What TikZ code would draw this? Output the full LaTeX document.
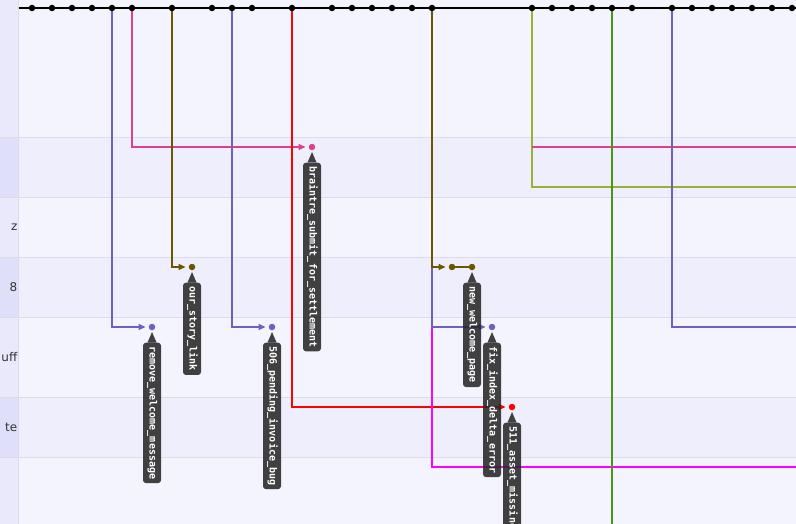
\documentclass[tikz,border=0pt]{standalone}
\usepackage{fontspec}
\setmainfont{DejaVu Sans}
\newfontfamily\tagfont{DejaVu Sans Mono}
\usetikzlibrary{arrows.meta}

\definecolor{rowlight}{RGB}{244,244,254}
\definecolor{rowdark}{RGB}{239,238,252}
\definecolor{leftlight}{RGB}{233,233,251}
\definecolor{leftdark}{RGB}{223,223,250}
\definecolor{gridline}{RGB}{220,220,228}
\definecolor{tagbg}{RGB}{40,40,40}
\definecolor{lav}{RGB}{111,95,192}
\definecolor{rose}{RGB}{222,64,140}
\definecolor{olive}{RGB}{107,85,0}
\definecolor{lime}{RGB}{152,176,52}
\definecolor{grass}{RGB}{72,150,20}
\definecolor{fuchsia}{RGB}{255,0,255}
\definecolor{scarlet}{RGB}{255,0,0}

\begin{document}
\begin{tikzpicture}[
		x=1pt, y=-1pt,
		>={Triangle[length=7pt,width=6pt]},
		every node/.style={inner sep=0pt},
		commit/.style={circle,fill,minimum size=6.5pt},
		lane/.style={line width=1.5pt},
		tag/.style={rotate=-90,anchor=west,fill=tagbg,fill opacity=0.88,text opacity=1,
			text=white,rounded corners=3pt,font=\tagfont\bfseries\fontsize{10}{10}\selectfont,
			inner xsep=4pt,inner ysep=4pt,text height=7.5pt,text depth=2.5pt},
		pointer/.style={fill=tagbg,fill opacity=0.88}
	]
		\useasboundingbox (0,0) rectangle (796,524);
		\clip (0,0) rectangle (796,524);

		% Rows
		\fill[rowlight] (0,0) rectangle (796,524);
		\foreach \t/\b in {137/197,257/317,397/457}
			\fill[rowdark] (18,\t) rectangle (796,\b);
		\fill[leftlight] (0,0) rectangle (18,524);
		\foreach \t/\b in {137/197,257/317,397/457}
			\fill[leftdark] (0,\t) rectangle (18,\b);
		\foreach \y in {137,197,257,317,397,457}
			\draw[gridline] (0,\y) -- (796,\y);
		\draw[gridline] (18.5,0) -- (18.5,524);

		% Branch names
		\node[anchor=east,text=black!80,font=\fontsize{12}{12}\selectfont] (bz) at (17.5,227) {z};
		\node[anchor=east,text=black!80,font=\fontsize{12}{12}\selectfont] (b8) at (17.5,287) {8};
		\node[anchor=east,text=black!80,font=\fontsize{12}{12}\selectfont] (buff) at (17.5,357) {uff};
		\node[anchor=east,text=black!80,font=\fontsize{12}{12}\selectfont] (bte) at (17.5,427) {te};

		% Commits on main
		\foreach \x in {32,52,72,92,112,132,172,212,232,252,292,332,352,372,392,412,432,
				532,552,572,592,612,632,672,692,712,732,752,772,792}
			\coordinate (m\x) at (\x,8);

		% Commits on branches
		\node[commit,lav] (rwm) at (152,327) {};
		\node[commit,rose] (bsfs) at (312,147) {};
		\node[commit,olive] (osl) at (192,267) {};
		\node[commit,lav] (pib) at (272,327) {};
		\node[commit,scarlet] (asset) at (512,407) {};
		\node[commit,olive] (nwp0) at (452,267) {};
		\node[commit,olive] (nwp) at (472,267) {};
		\node[commit,lav] (fix) at (492,327) {};

		% Loose ends
		\coordinate (mainstart) at (18.5,8);
		\coordinate (mainend) at (800,8);
		\coordinate (magend) at (800,467);
		\coordinate (limeend) at (800,187);
		\coordinate (rosestart) at (532,147);
		\coordinate (roseend) at (800,147);
		\coordinate (grassend) at (612,530);
		\coordinate (laveend) at (800,327);

		% Branch lines
		\draw[lane,lav,->,shorten >=3pt] (m112) |- (rwm);
		\draw[lane,rose,->,shorten >=3pt] (m132) |- (bsfs);
		\draw[lane,olive,->,shorten >=3pt] (m172) |- (osl);
		\draw[lane,lav,->,shorten >=3pt] (m232) |- (pib);
		\draw[lane,scarlet,->,shorten >=3pt] (m292) |- (asset);
		\draw[lane,fuchsia] (m432) |- (magend);
		\draw[lane,lav,->,shorten >=3pt] (m432) |- (fix);
		\draw[lane,olive,->,shorten >=3pt] (m432) |- (nwp0);
		\draw[lane,olive] (nwp0) -- (nwp);
		\draw[lane,lime] (m532) |- (limeend);
		\draw[lane,rose] (rosestart) -- (roseend);
		\draw[lane,grass] (m612) -- (grassend);
		\draw[lane,lav] (m672) |- (laveend);

		% Main
		\draw[line width=2pt] (mainstart) -- (mainend);
		\foreach \x in {32,52,72,92,112,132,172,212,232,252,292,332,352,372,392,412,432,
				532,552,572,592,612,632,672,692,712,732,752,772,792}
			\node[commit,black] at (m\x) {};

		% Tags
		\foreach \c in {rwm,bsfs,osl,pib,asset,nwp,fix}
			\fill[pointer] ([yshift=-5pt]\c.center) -- ++(4.5,10.5) -- ++(-9,0) -- cycle;
		\node[tag] (trwm) at ([yshift=-15.5pt]rwm.center) {remove\_welcome\_message};
		\node[tag] (tbsfs) at ([yshift=-15.5pt]bsfs.center) {braintre\_submit\_for\_settlement};
		\node[tag] (tosl) at ([yshift=-15.5pt]osl.center) {our\_story\_link};
		\node[tag] (tpib) at ([yshift=-15.5pt]pib.center) {506\_pending\_invoice\_bug};
		\node[tag] (tnwp) at ([yshift=-15.5pt]nwp.center) {new\_welcome\_page};
		\node[tag] (tfix) at ([yshift=-15.5pt]fix.center) {fix\_index\_delta\_error};
		\node[tag] (tasset) at ([yshift=-15.5pt]asset.center) {511\_asset\_missing};
	\end{tikzpicture}
\end{document}
